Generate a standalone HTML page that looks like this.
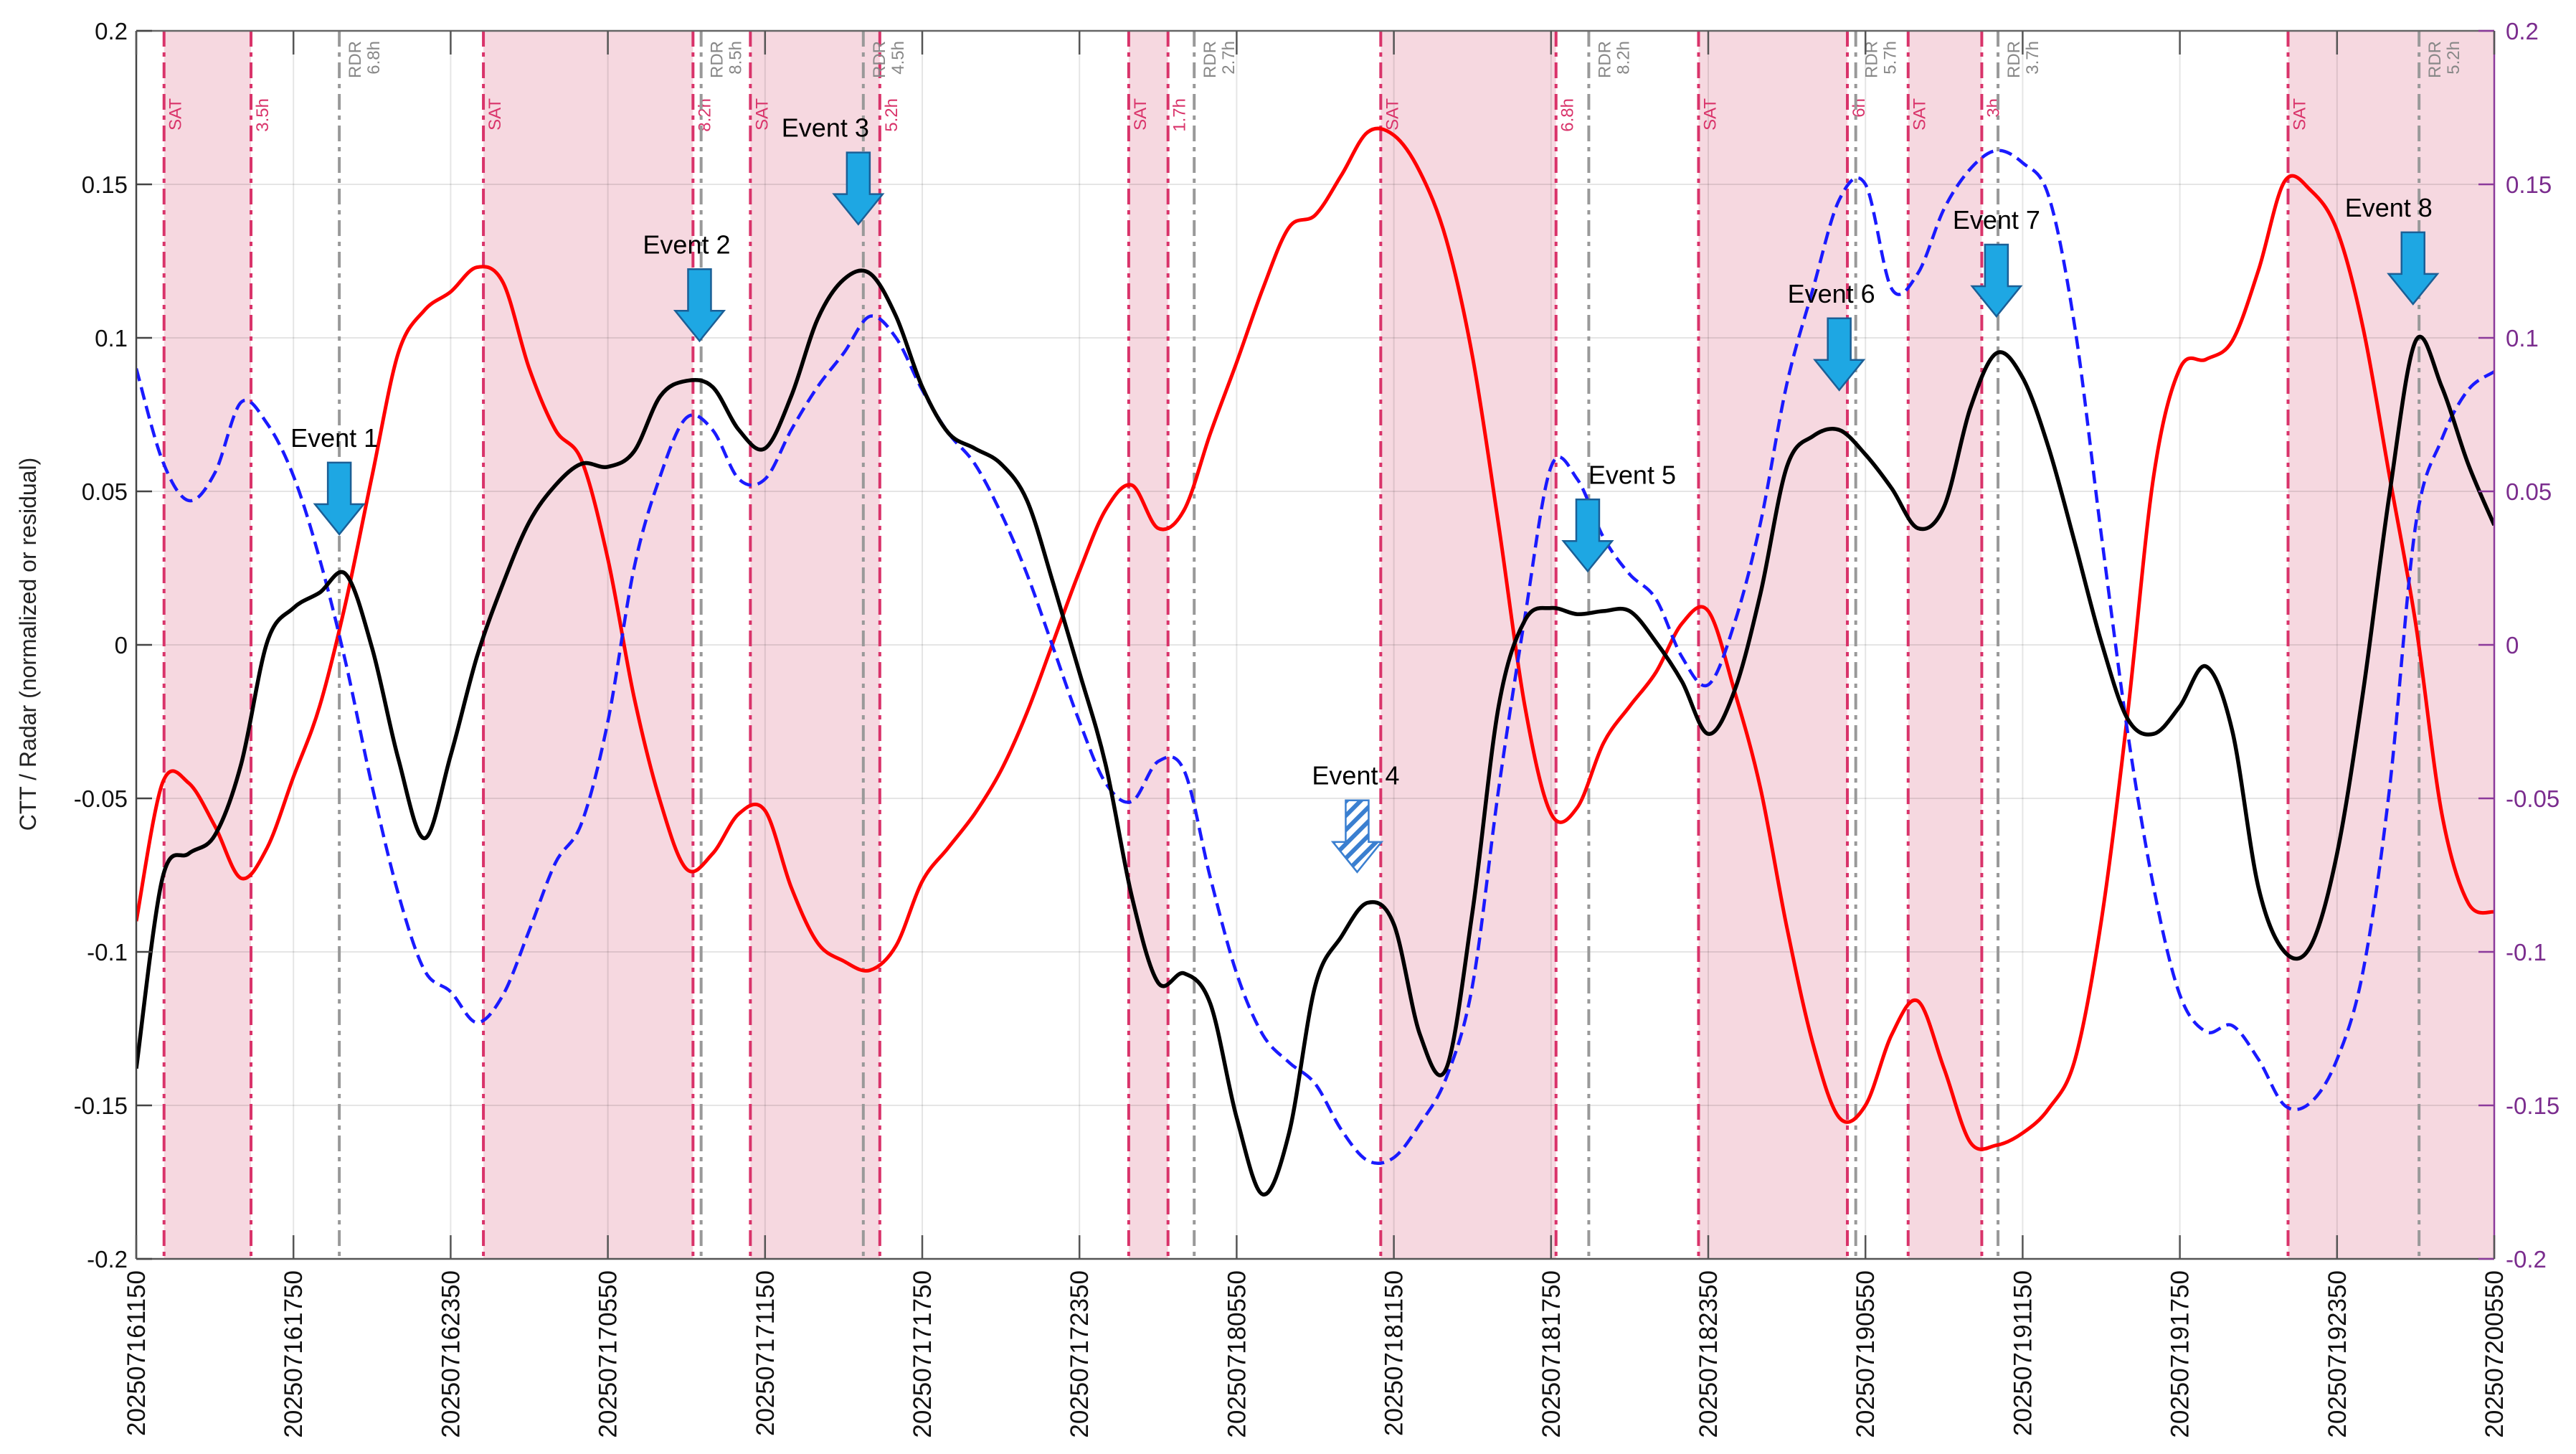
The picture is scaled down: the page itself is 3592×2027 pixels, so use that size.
<!DOCTYPE html>
<html><head><meta charset="utf-8"><style>
html,body{margin:0;padding:0;background:#fff}
svg{display:block}
text{font-family:"Liberation Sans",Arial,sans-serif}
</style></head><body>
<svg id="chart" width="3592" height="2027" viewBox="0 0 3592 2027" xmlns="http://www.w3.org/2000/svg">
<defs>
<clipPath id="plotClip"><rect x="190" y="43" width="3288" height="1712"/></clipPath>
<pattern id="hatch" width="14" height="14" patternUnits="userSpaceOnUse" patternTransform="rotate(45)">
<rect width="14" height="14" fill="#fff"/><rect width="6" height="14" fill="#3a7fd0"/></pattern>
</defs>
<g id="shades"></g>
<g id="grid"></g>
<g id="vlines"></g>
<g id="series" clip-path="url(#plotClip)"></g>
<g id="axes"></g>
<g id="events"></g>
<text x="0" y="0" font-size="32" text-anchor="middle" transform="translate(50,898) rotate(-90)" fill="#222">CTT / Radar (normalized or residual)</text>
</svg>
<script>
const xTickLabels=["202507161150","202507161750","202507162350","202507170550","202507171150","202507171750","202507172350","202507180550","202507181150","202507181750","202507182350","202507190550","202507191150","202507191750","202507192350","202507200550"];
const xTickHours=[0,6,12,18,24,30,36,42,48,54,60,66,72,78,84,90];
const yTicks=[-0.2,-0.15,-0.1,-0.05,0,0.05,0.1,0.15,0.2];
const yTickLabels=["-0.2","-0.15","-0.1","-0.05","0","0.05","0.1","0.15","0.2"];
const hours=[];for(let i=0;i<=90;i++)hours.push(i);
const blackSeries=[-0.138,-0.076,-0.068,-0.062,-0.039,0.001,0.012,0.017,0.023,-0.001,-0.037,-0.063,-0.036,-0.004,0.020,0.040,0.052,0.059,0.058,0.063,0.081,0.086,0.084,0.070,0.064,0.081,0.106,0.119,0.121,0.107,0.084,0.069,0.064,0.059,0.047,0.020,-0.009,-0.039,-0.082,-0.110,-0.107,-0.117,-0.154,-0.179,-0.159,-0.111,-0.095,-0.084,-0.091,-0.127,-0.138,-0.087,-0.020,0.008,0.012,0.010,0.011,0.011,0.001,-0.012,-0.029,-0.015,0.017,0.058,0.068,0.070,0.062,0.051,0.038,0.045,0.077,0.095,0.087,0.064,0.033,0.001,-0.024,-0.029,-0.020,-0.007,-0.028,-0.079,-0.100,-0.098,-0.068,-0.015,0.049,0.099,0.084,0.059,0.039];
const redSeries=[-0.090,-0.045,-0.045,-0.059,-0.076,-0.066,-0.043,-0.020,0.014,0.055,0.095,0.109,0.115,0.123,0.118,0.090,0.070,0.060,0.028,-0.017,-0.051,-0.073,-0.068,-0.055,-0.054,-0.079,-0.097,-0.103,-0.106,-0.098,-0.077,-0.066,-0.055,-0.041,-0.022,0.001,0.024,0.044,0.052,0.038,0.044,0.069,0.092,0.116,0.136,0.140,0.153,0.167,0.166,0.154,0.132,0.094,0.039,-0.020,-0.055,-0.053,-0.032,-0.020,-0.009,0.007,0.011,-0.015,-0.047,-0.092,-0.130,-0.154,-0.150,-0.127,-0.116,-0.138,-0.162,-0.163,-0.159,-0.151,-0.135,-0.090,-0.023,0.055,0.090,0.093,0.099,0.122,0.151,0.148,0.135,0.103,0.055,0.007,-0.055,-0.084,-0.087];
const blueSeries=[0.090,0.060,0.047,0.056,0.079,0.072,0.055,0.028,-0.006,-0.046,-0.081,-0.106,-0.113,-0.123,-0.114,-0.093,-0.071,-0.058,-0.025,0.025,0.055,0.074,0.070,0.054,0.054,0.070,0.084,0.095,0.107,0.100,0.083,0.069,0.059,0.043,0.023,-0.001,-0.025,-0.045,-0.051,-0.038,-0.041,-0.076,-0.107,-0.127,-0.136,-0.143,-0.158,-0.168,-0.167,-0.156,-0.141,-0.111,-0.047,0.009,0.058,0.054,0.035,0.023,0.015,-0.004,-0.013,0.007,0.040,0.085,0.116,0.145,0.150,0.116,0.121,0.142,0.155,0.161,0.157,0.146,0.103,0.036,-0.028,-0.079,-0.114,-0.126,-0.124,-0.135,-0.150,-0.149,-0.135,-0.106,-0.047,0.039,0.067,0.083,0.089];
const shadeStart=[1.06,13.25,23.44,37.88,47.5,59.63,67.63,82.13];
const shadeEnd=[4.38,21.25,28.38,39.38,54.19,65.31,70.44,90];
const satHours=[1.06,4.38,13.25,21.25,23.44,28.38,37.88,39.38,47.5,54.19,59.63,65.31,67.63,70.44,82.13];
const satLabels=["SAT","3.5h","SAT","8.2h","SAT","5.2h","SAT","1.7h","SAT","6.8h","SAT","6h","SAT","3h","SAT"];
const rdrHours=[7.75,21.56,27.75,40.38,55.44,65.63,71.06,87.13];
const rdrLabels=["6.8h","8.5h","4.5h","2.7h","8.2h","5.7h","3.7h","5.2h"];
const eventNames=["Event 1","Event 2","Event 3","Event 4","Event 5","Event 6","Event 7","Event 8"];
const eventHours=[7.75,21.5,27.56,46.6,55.4,65,71,86.9];
const eventValues=[0.036,0.099,0.137,-0.074,0.024,0.083,0.107,0.111];
const eventLabelDx=[-7,-18,-46,-2,62,-11,0,-34];
const eventHatched=[false,false,false,true,false,false,false,false];

const NS="http://www.w3.org/2000/svg";
const L=190,R=3478,T=43,B=1755;
const X=h=>L+h/90*(R-L);
const Y=v=>T+(0.2-v)/0.4*(B-T);
function mk(tag,attrs,parent){const e=document.createElementNS(NS,tag);for(const k in attrs)e.setAttribute(k,attrs[k]);parent.appendChild(e);return e;}
const gS=document.getElementById('shades'),gG=document.getElementById('grid'),gV=document.getElementById('vlines'),gSer=document.getElementById('series'),gA=document.getElementById('axes'),gE=document.getElementById('events');

shadeStart.forEach((s,i)=>{
 const r=mk('rect',{x:X(s),y:T,width:X(shadeEnd[i])-X(s),height:B-T,fill:'#f6d8e0'},gS);
 
 
});
xTickHours.forEach((h,i)=>{
 const l=mk('line',{x1:X(h),x2:X(h),y1:T,y2:B,stroke:'#000','stroke-opacity':0.1,'stroke-width':2},gG);
 
 
});
yTicks.forEach(v=>{
 const l=mk('line',{x1:L,x2:R,y1:Y(v),y2:Y(v),stroke:'#000','stroke-opacity':0.1,'stroke-width':2},gG);
 
 
});
satHours.forEach((h,i)=>{
 const l=mk('line',{x1:X(h),x2:X(h),y1:T,y2:B,stroke:'#d9336a','stroke-width':4,'stroke-dasharray':'22 8 6 8'},gV);
 
 
 const t=mk('text',{x:0,y:0,'font-size':24,fill:'#d9336a','text-anchor':'end',transform:`translate(${X(h)+24},137) rotate(-90)`},gV);
 t.textContent=satLabels[i];
 
 
});
rdrHours.forEach((h,i)=>{
 const l=mk('line',{x1:X(h),x2:X(h),y1:T,y2:B,stroke:'#999','stroke-width':4,'stroke-dasharray':'22 8 6 8'},gV);
 
 
 const t1=mk('text',{x:0,y:0,'font-size':24,fill:'#888','text-anchor':'end',transform:`translate(${X(h)+30},57) rotate(-90)`},gV);
 t1.textContent='RDR';
 
 
 const t2=mk('text',{x:0,y:0,'font-size':24,fill:'#888','text-anchor':'end',transform:`translate(${X(h)+56},57) rotate(-90)`},gV);
 t2.textContent=rdrLabels[i];
 
 
});
function smooth(vals){
 const p=vals.map((v,i)=>[X(hours[i]),Y(v)]);
 let d='M'+p[0][0]+','+p[0][1];
 for(let i=0;i<p.length-1;i++){
  const p0=p[i-1]||p[i],p1=p[i],p2=p[i+1],p3=p[i+2]||p[i+1];
  const c1=[p1[0]+(p2[0]-p0[0])/6,p1[1]+(p2[1]-p0[1])/6];
  const c2=[p2[0]-(p3[0]-p1[0])/6,p2[1]-(p3[1]-p1[1])/6];
  d+=`C${c1[0].toFixed(1)},${c1[1].toFixed(1)} ${c2[0].toFixed(1)},${c2[1].toFixed(1)} ${p2[0].toFixed(1)},${p2[1].toFixed(1)}`;
 }
 return d;
}
const rp=mk('path',{d:smooth(redSeries),fill:'none',stroke:'#ff0000','stroke-width':5,'stroke-linejoin':'round'},gSer);


const bp=mk('path',{d:smooth(blueSeries),fill:'none',stroke:'#1a1aff','stroke-width':4.5,'stroke-dasharray':'18 9'},gSer);


const kp=mk('path',{d:smooth(blackSeries),fill:'none',stroke:'#000','stroke-width':5.5,'stroke-linejoin':'round'},gSer);



// axes
mk('line',{x1:L,x2:R,y1:T,y2:T,stroke:'#666','stroke-width':2.5},gA);
mk('line',{x1:L,x2:R,y1:B,y2:B,stroke:'#555','stroke-width':2.5},gA);
mk('line',{x1:L,x2:L,y1:T,y2:B,stroke:'#444','stroke-width':2.5},gA);
mk('line',{x1:R,x2:R,y1:T,y2:B,stroke:'#8b3a9b','stroke-width':2.5},gA);
yTicks.forEach((v,i)=>{
 mk('line',{x1:L,x2:L+22,y1:Y(v),y2:Y(v),stroke:'#444','stroke-width':2.5},gA);
 mk('line',{x1:R-22,x2:R,y1:Y(v),y2:Y(v),stroke:'#8b3a9b','stroke-width':2.5},gA);
 const t=mk('text',{x:L-12,y:Y(v)+12,'font-size':33,'text-anchor':'end',fill:'#111'},gA);
 t.textContent=yTickLabels[i];
 
 
 const t2=mk('text',{x:R+16,y:Y(v)+12,'font-size':33,'text-anchor':'start',fill:'#7b2d8e'},gA);
 t2.textContent=yTickLabels[i];
 
 
});
xTickHours.forEach((h,i)=>{
 mk('line',{x1:X(h),x2:X(h),y1:B-33,y2:B,stroke:'#555','stroke-width':2.5},gA);
 mk('line',{x1:X(h),x2:X(h),y1:T,y2:T+33,stroke:'#555','stroke-width':2.5},gA);
 const t=mk('text',{x:0,y:0,'font-size':35,'text-anchor':'end',fill:'#111',transform:`translate(${X(h)+12},${B+16}) rotate(-90)`},gA);
 t.textContent=xTickLabels[i];
 
 
});
// events
eventNames.forEach((n,i)=>{
 const x=X(eventHours[i]),y=Y(eventValues[i]);
 const top=y-100,hb=y-42;
 const d=`M${x-16},${top}L${x+16},${top}L${x+16},${hb}L${x+34},${hb}L${x},${y}L${x-34},${hb}L${x-16},${hb}Z`;
 const a=mk('path',{d:d,fill:eventHatched[i]?'url(#hatch)':'#1ea7e3',stroke:eventHatched[i]?'#3a7fd0':'#1b5f96','stroke-width':2.5},gE);
 
 
 const t=mk('text',{x:x+eventLabelDx[i],y:top-22,'font-size':36,'text-anchor':'middle',fill:'#000'},gE);
 t.textContent=n;
 
 
});
</script>
</body></html>
